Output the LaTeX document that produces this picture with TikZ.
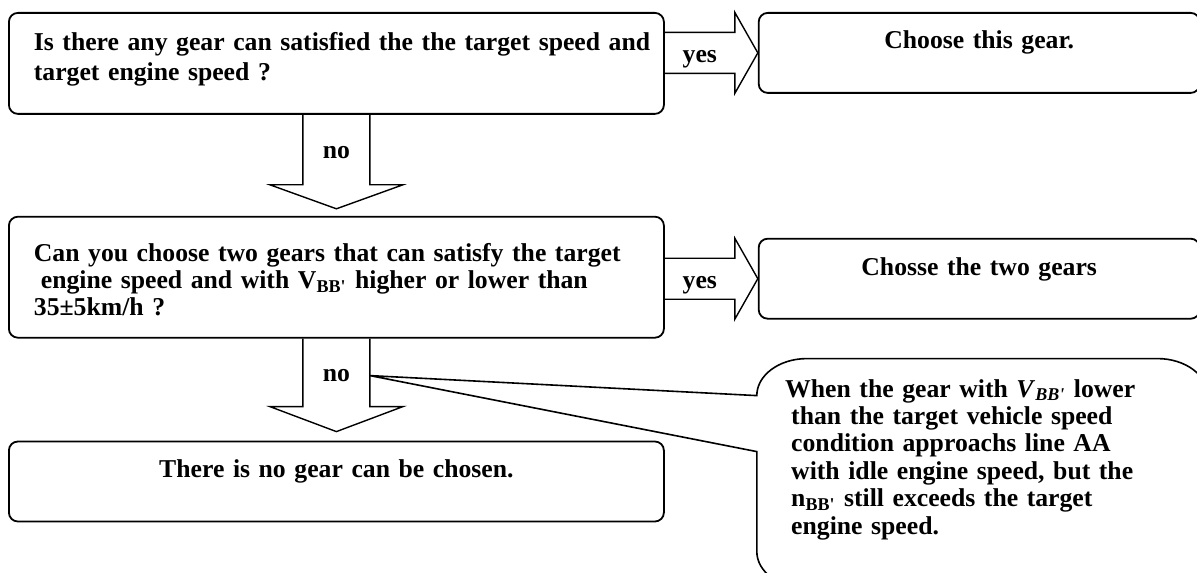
\documentclass[tikz,border=0pt]{standalone}
\usepackage{fontspec}
\setmainfont{Liberation Serif}
\usepackage{tikz}
\usetikzlibrary{positioning,calc}

\begin{document}
\begin{tikzpicture}[
    qbox/.style={rectangle, draw, line width=0.9pt, rounded corners=4.5pt, align=left, text width=302.5pt, inner xsep=12.5pt, inner ysep=0pt, font={\fontsize{12.85pt}{15pt}\selectfont\bfseries}},
    abox/.style={rectangle, draw, line width=0.9pt, rounded corners=4.5pt, align=center, text width=196.5pt, inner xsep=12pt, inner ysep=0pt, text height=18pt, text depth=22pt, font={\fontsize{12.85pt}{15pt}\selectfont\bfseries}},
    notebox/.style={rectangle, align=left, text width=191pt, inner xsep=17pt, inner ysep=0pt, text height=19pt, text depth=95.5pt, font={\fontsize{12.85pt}{13.7pt}\selectfont\bfseries}},
    arrowtext/.style={anchor=base, inner sep=0pt, font={\fontsize{12.85pt}{15pt}\selectfont\bfseries}},
    blockarrow/.style={draw, line width=0.7pt},
    callout/.style={draw, line width=0.8pt}
]
    \useasboundingbox (0,0) rectangle (598.5pt,-286pt);

    % Questions
    \node[qbox, text height=19pt, text depth=31.5pt, anchor=north west] (q1) at (4pt,-6pt) {\mbox{Is there any gear can satisfied the the target speed and}\\target engine speed ?};
    \node[qbox, text height=22.5pt, text depth=38pt, font={\fontsize{12.85pt}{13.5pt}\selectfont\bfseries}, below=50.5pt of q1.south west, anchor=north west] (q2) {\mbox{Can you choose two gears that can satisfy the target}\\\hspace*{3.5pt}engine speed and with V\textsubscript{BB\textquotesingle} higher or lower than\\35±5km/h ?};
    \node[qbox, align=center, text height=18pt, text depth=22pt, below=51pt of q2.south west, anchor=north west] (q3) {There is no gear can be chosen.};

    % Answers
    \node[abox, right=46.5pt of q1.north east, anchor=north west] (a1) {Choose this gear.};
    \node[abox, text height=18.5pt, text depth=21.5pt, below right=11pt and 46.5pt of q2.north east, anchor=north west] (a2) {Chosse the two gears};

    % Note
    \node[notebox, below right=10pt and 46pt of q2.south east, anchor=north west] (note) {\hspace*{-3pt}When the gear with \textit{V}\textsubscript{\textit{BB\textquotesingle}} lower\\than the target vehicle speed\\condition approachs line AA\\with idle engine speed, but the\\n\textsubscript{BB\textquotesingle} still exceeds the target\\engine speed.};

    % yes arrows
    \coordinate (r1s) at (q1.east |- a1.west);
    \draw[blockarrow] ([yshift=10.25pt]r1s) -- ++(35pt,0) -- ++(0,10pt) -- (a1.west) -- ++(-11.5pt,-20.25pt) -- ++(0,10pt) -- ([yshift=-10.25pt]r1s);
    \node[arrowtext] (y1) at ([xshift=17.5pt,yshift=-5pt]r1s) {yes};

    \coordinate (r2s) at (q2.east |- a2.west);
    \draw[blockarrow] ([yshift=10.25pt]r2s) -- ++(35pt,0) -- ++(0,10pt) -- (a2.west) -- ++(-11.5pt,-20.25pt) -- ++(0,10pt) -- ([yshift=-10.25pt]r2s);
    \node[arrowtext] (y2) at ([xshift=17.5pt,yshift=-5pt]r2s) {yes};

    % no arrows
    \draw[blockarrow] ([xshift=-16.75pt]q1.south) -- ++(0,-35pt) -- ++(-16.5pt,0) -- ++(33.25pt,-12pt) -- ++(33.25pt,12pt) -- ++(-16.5pt,0) -- ++(0,35pt);
    \node[arrowtext] (n1) at ([yshift=-22pt]q1.south) {no};

    \draw[blockarrow] ([xshift=-16.75pt]q2.south) -- ++(0,-34pt) -- ++(-16.5pt,0) -- ++(33.25pt,-12.5pt) -- ++(33.25pt,12.5pt) -- ++(-16.5pt,0) -- ++(0,34pt);
    \node[arrowtext] (n2) at ([yshift=-21.5pt]q2.south) {no};

    % Callout
    \coordinate (ptip) at ([xshift=16.75pt,yshift=-18.5pt]q2.south);
    \coordinate (c1) at ([yshift=-18.5pt]note.north west);
    \coordinate (c2) at ([yshift=-46.5pt]note.north west);
    \draw[callout] (c2) -- ([yshift=18.5pt]note.south west) arc[start angle=180, end angle=270, x radius=25pt, y radius=18.5pt]
        -- ([xshift=-25pt]note.south east) arc[start angle=270, end angle=360, x radius=25pt, y radius=18.5pt]
        -- ([yshift=-18.5pt]note.north east) arc[start angle=0, end angle=90, x radius=25pt, y radius=18.5pt]
        -- ([xshift=25pt]note.north west) arc[start angle=90, end angle=180, x radius=25pt, y radius=18.5pt]
        -- (ptip) -- cycle;
\end{tikzpicture}
\end{document}
